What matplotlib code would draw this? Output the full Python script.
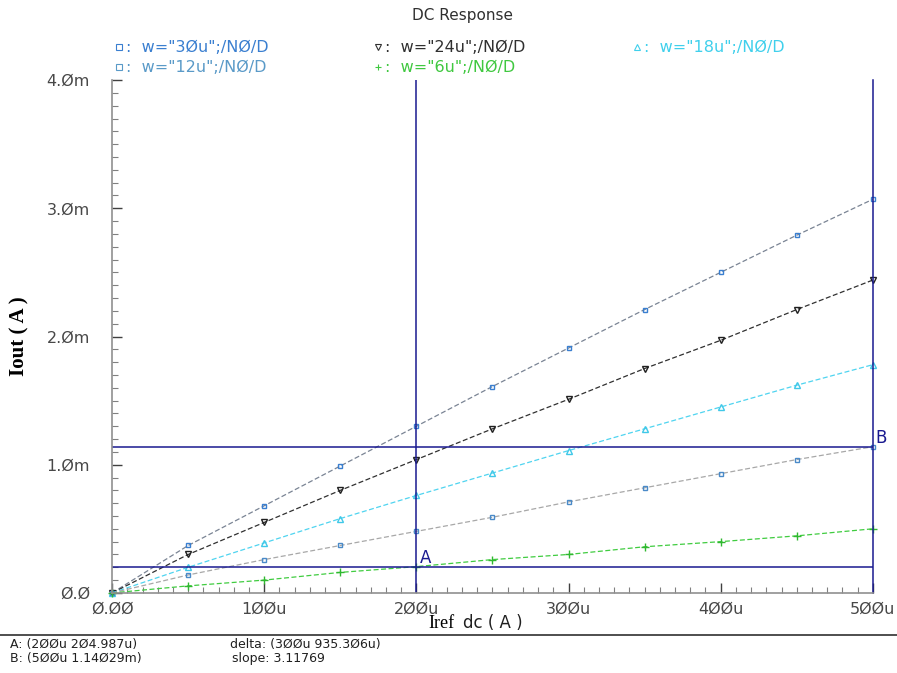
import matplotlib
matplotlib.use('Agg')
import matplotlib.pyplot as plt
from matplotlib.lines import Line2D
from matplotlib.ticker import MultipleLocator

# sweep of Iref (A) and Iout (A) per device width
iref = [0, 50e-6, 100e-6, 150e-6, 200e-6, 250e-6, 300e-6, 350e-6, 400e-6, 450e-6, 500e-6]
iout_30u = [0, 0.37e-3, 0.68e-3, 0.99e-3, 1.30e-3, 1.61e-3, 1.91e-3, 2.21e-3, 2.50e-3, 2.79e-3, 3.07e-3]
iout_24u = [0, 0.30e-3, 0.55e-3, 0.80e-3, 1.04e-3, 1.28e-3, 1.51e-3, 1.75e-3, 1.97e-3, 2.21e-3, 2.44e-3]
iout_18u = [0, 0.20e-3, 0.39e-3, 0.58e-3, 0.76e-3, 0.935e-3, 1.11e-3, 1.28e-3, 1.45e-3, 1.62e-3, 1.78e-3]
iout_12u = [0, 0.14e-3, 0.26e-3, 0.37e-3, 0.48e-3, 0.59e-3, 0.71e-3, 0.82e-3, 0.93e-3, 1.04e-3, 1.14029e-3]
iout_6u = [0, 0.055e-3, 0.10e-3, 0.16e-3, 0.204987e-3, 0.26e-3, 0.30e-3, 0.36e-3, 0.40e-3, 0.445e-3, 0.50e-3]

series_labels = ['w="3Øu";/NØ/D', 'w="24u";/NØ/D', 'w="18u";/NØ/D', 'w="12u";/NØ/D', 'w="6u";/NØ/D']

x_ticks = [0, 100e-6, 200e-6, 300e-6, 400e-6, 500e-6]
x_ticklabels = ['Ø.ØØ', '1ØØu', '2ØØu', '3ØØu', '4ØØu', '5ØØu']
y_ticks = [0, 1e-3, 2e-3, 3e-3, 4e-3]
y_ticklabels = ['Ø.Ø', '1.Øm', '2.Øm', '3.Øm', '4.Øm']

cursor_a = (200e-6, 204.987e-6)
cursor_b = (500e-6, 1.14029e-3)

fig = plt.figure(figsize=(8.97, 6.73), dpi=100)
ax = fig.add_axes([0.125, 0.119, 0.848, 0.762])

styles = [
    dict(color='#7a8494', marker='s', mec='#3a7fd0', ms=3.5, mfc='none'),
    dict(color='#303030', marker='v', mec='#202020', ms=4.5, mfc='none'),
    dict(color='#4fd4f0', marker='^', mec='#40c8e8', ms=4.5, mfc='none'),
    dict(color='#a8a8a8', marker='s', mec='#4a8ac8', ms=2.5, mfc='none'),
    dict(color='#40cc40', marker='+', mec='#30b830', ms=6, mfc='none'),
]
text_colors = ['#3a7fd0', '#303030', '#40d0ec', '#5a9ac8', '#40c840']
series = [iout_30u, iout_24u, iout_18u, iout_12u, iout_6u]

for ys, st in zip(series, styles):
    ax.plot(iref, ys, linestyle=(0, (4, 2)), lw=0.9, color=st['color'],
            marker=st['marker'], mec=st['mec'], mfc=st['mfc'], ms=st['ms'], mew=1,
            clip_on=False)

# cursors
navy = '#1a1a90'
ax.axvline(cursor_a[0], color=navy, lw=1.1)
ax.axvline(cursor_b[0], color=navy, lw=1.1, clip_on=False)
ax.plot([0, cursor_b[0]], [cursor_a[1], cursor_a[1]], color=navy, lw=1.1)
ax.plot([0, cursor_b[0]], [cursor_b[1], cursor_b[1]], color=navy, lw=1.1)
ax.text(cursor_a[0] + 2e-6, cursor_a[1], 'A', color=navy, fontsize=12, ha='left', va='bottom')
ax.text(cursor_b[0] + 2e-6, cursor_b[1], 'B', color=navy, fontsize=12, ha='left', va='bottom')

ax.set_xlim(0, 500e-6)
ax.set_ylim(0, 4e-3)
ax.set_xticks(x_ticks)
ax.set_xticklabels(x_ticklabels)
ax.set_yticks(y_ticks)
ax.set_yticklabels(y_ticklabels)
ax.xaxis.set_minor_locator(MultipleLocator(10e-6))
ax.yaxis.set_minor_locator(MultipleLocator(0.1e-3))
ax.tick_params(which='major', direction='in', length=7, width=1, color='#404040',
               labelsize=11.5, labelcolor='#484848', pad=6)
ax.tick_params(which='minor', direction='in', length=4, width=0.8, color='#808080')
ax.tick_params(axis='y', pad=16)
for side in ['top', 'right']:
    ax.spines[side].set_visible(False)
for side in ['left', 'bottom']:
    ax.spines[side].set_color('#909090')
    ax.spines[side].set_linewidth(1.2)

ax.set_ylabel('Iout ( A )', family='Liberation Serif', fontsize=15, fontweight='bold')
ax.yaxis.set_label_coords(-0.108, 0.5)
fig.text(0.478, 0.074, 'Iref', family='Liberation Serif', fontsize=13, ha='left', va='center')
fig.text(0.516, 0.074, 'dc ( A )', fontsize=12, ha='left', va='center', color='#202020')

fig.text(0.516, 0.977, 'DC Response', fontsize=11, ha='center', va='center', color='#303030')

# legend rows
leg_pos = [(0.133, 0.930), (0.421, 0.930), (0.710, 0.930), (0.133, 0.900), (0.421, 0.900)]
for (lx, ly), st, lab, tc in zip(leg_pos, styles, series_labels, text_colors):
    fig.add_artist(Line2D([lx], [ly], marker=st['marker'], mec=tc, mfc='none', ms=4,
                          mew=0.8, transform=fig.transFigure))
    fig.text(lx + 0.008, ly, ':  ' + lab, fontsize=11.5, color=tc, ha='left', va='center')

fig.add_artist(Line2D([0.0, 1.0], [0.056, 0.056], color='#303030', lw=1.2,
                      transform=fig.transFigure))
fig.text(0.011, 0.043, 'A: (2ØØu 2Ø4.987u)', fontsize=9, ha='left', va='center', color='#202020')
fig.text(0.011, 0.022, 'B: (5ØØu 1.14Ø29m)', fontsize=9, ha='left', va='center', color='#202020')
fig.text(0.256, 0.043, 'delta: (3ØØu 935.3Ø6u)', fontsize=9, ha='left', va='center', color='#202020')
fig.text(0.259, 0.022, 'slope: 3.11769', fontsize=9, ha='left', va='center', color='#202020')

fig.savefig('out.png', dpi=100)
